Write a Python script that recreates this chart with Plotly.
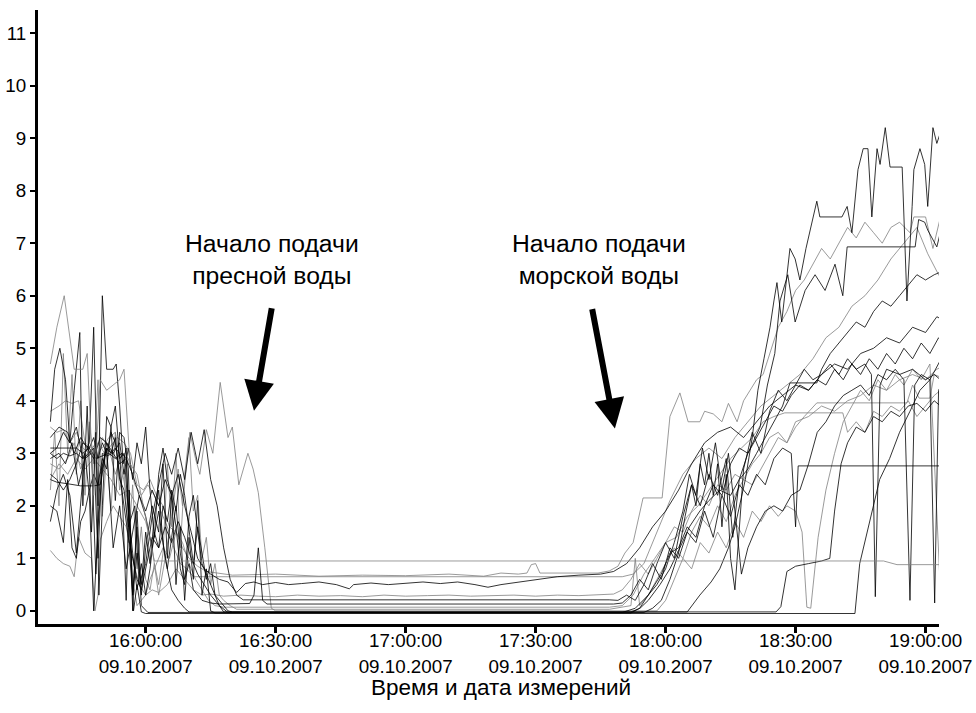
import pandas as pd
import plotly.graph_objects as go

BASE = pd.Timestamp("2007-10-09 16:00:00")

# ---- data: [minutes from 16:00:00, value] per sensor ----
s_A = [[-22,2.5],[-20.5,2.45],[-18,2.42],[-15,2.38],[-12,2.38],[-10.5,2.4],[-9,3.1],[-7.5,1.2],[-6,2.0],[-4.5,0.8],[-3,1.5],[-1.5,2.2],[0,1.8],[1.5,1.2],[3,1.9],[4.5,1.0],[6,0.4],[7.5,0.2],[9,0.05],[10,-0.02],[60,-0.03],[125,-0.02],[127.9,0.3],[130.5,0.55],[132.5,0.8],[134.5,1.2],[136,1.6],[138.4,2.5],[140,3.3],[141.3,4.2],[142.7,4.8],[144.1,5.4],[145,5.9],[145.7,6.25],[146.8,5.5],[147.8,6.2],[148.7,6.9],[149.9,6.7],[151,6.3],[152.4,6.9],[153.8,7.4],[154.9,7.8],[155.6,7.5],[160.7,7.5],[161.9,7.7],[163,7.2],[164.4,8.4],[165.6,8.8],[166.7,8.8],[167.6,7.5],[168.8,8.8],[169.5,8.5],[170.7,9.2],[171.8,8.45],[174.6,8.45],[175.7,5.9],[176.9,7.7],[177.3,8.4],[178.7,8.8],[179.8,8.5],[180.5,7.7],[181.7,9.2],[182.6,8.9],[183.8,9.2],[184.9,9.15]]
s_B = [[-22,4.7],[-20.5,5.4],[-18.8,6.0],[-17.5,5.2],[-16.5,4.6],[-14.5,4.6],[-13.5,4.9],[-12,2.2],[-10.5,4.4],[-9,4.2],[-7.5,4.3],[-6,4.4],[-5,4.6],[-3.6,2.8],[-2,2.6],[0.5,1.6],[2,0.95],[170.3,0.95],[173.4,0.88],[184.9,0.88]]
s_C = [[-22,3.0],[-20.5,3.1],[-19,3.4],[-17.5,3.2],[-16,3.5],[-14.5,2.9],[-13,3.2],[-12,5.4],[-11,2.0],[-10,6.0],[-9,4.6],[-7.5,4.6],[-6.8,4.7],[-6,3.9],[-5.2,2.8],[-4.5,3.1],[-3.8,1.2],[-3,0.3],[-2,1.6],[-1,0.1],[0.5,-0.03],[110,-0.03],[113,0.05],[116,0.3],[119,0.7],[121,1.1],[123,1.2],[125,1.6],[127,1.4],[129,2.0],[131,2.4],[133,2.2],[135,2.8],[137,3.1],[139,3.0],[141.8,3.5],[143.5,4.3],[145.2,4.9],[146.4,5.9],[148.2,6.4],[149.9,5.5],[152.2,6.1],[154.5,6.4],[156.8,6.1],[159.1,6.6],[160.9,6.0],[161.9,6.93],[177.6,6.93],[178.4,7.45],[179.8,7.4],[180.5,7.25],[182.6,6.93],[184,7.4],[184.9,7.55]]
s_D = [[-22,3.8],[-20,3.9],[-18.5,4.0],[-17,3.95],[-15.5,4.0],[-14,3.2],[-12.5,3.1],[-11,3.2],[-9.5,3.0],[-8,3.15],[-6.5,3.3],[-5,3.2],[-3.5,3.0],[-2,2.4],[-0.5,2.3],[1,2.5],[2.5,2.2],[4,2.0],[5.5,1.6],[7,1.5],[8.5,1.2],[10,1.0],[12,0.85],[14,0.75],[20,0.68],[30,0.7],[40,0.66],[50,0.68],[60,0.67],[70,0.7],[78,0.66],[82,0.72],[86,0.7],[88,0.72],[89,0.88],[90,0.9],[91,0.72],[100,0.72],[104.4,0.72],[107,0.76],[109,0.85],[110.6,1.1],[112.5,1.3],[114.8,2.15],[119.2,2.15],[121,3.7],[123.3,4.15],[125.2,3.6],[127.9,3.6],[129,3.8],[131,3.75],[133,3.6],[134.5,3.95],[136.5,3.6],[138,4.0],[139.5,4.2],[141,4.4],[142.5,4.5],[144,4.9],[146,5.4],[148,5.7],[150,6.1],[152,6.3],[154,6.6],[156,6.9],[158,6.7],[160,7.0],[162,7.3],[164,7.1],[166,7.4],[168,7.2],[170,7.0],[172,7.3],[174,7.4],[176.4,7.2],[177.3,7.5],[180,7.5],[181.7,6.9],[183.3,7.45],[184.9,7.6]]
s_E = [[-22,3.3],[-20,3.5],[-18,3.4],[-16.5,3.0],[-15,3.3],[-13.5,3.1],[-12,2.9],[-10.5,3.3],[-9,3.2],[-7.5,3.0],[-6,2.8],[-4.5,2.9],[-3,2.6],[-1.5,2.2],[0,1.9],[1.5,2.3],[3,2.0],[4.5,2.5],[6,2.2],[7.5,2.6],[9,2.0],[10.5,1.5],[12,1.0],[13.5,0.8],[15,0.7],[17,0.6],[19,0.55],[21,0.35],[23,0.52],[25,0.55],[27,0.5],[30,0.54],[33,0.5],[36,0.52],[40,0.55],[44,0.5],[47,0.42],[48,0.5],[52,0.53],[56,0.5],[60,0.52],[64,0.55],[68,0.52],[72,0.55],[76,0.5],[79,0.45],[82,0.5],[86,0.55],[90,0.6],[95,0.65],[100,0.68],[105,0.7],[108,0.75],[111,0.9],[114,1.2],[117,1.6],[120,1.9],[123,2.3],[126,2.8],[129,3.2],[132,3.4],[135,3.5],[138,3.3],[141,3.6],[144,3.9],[147,4.1],[150,4.3],[153,4.2],[156,4.5],[159,4.7],[162,4.6],[165,4.9],[168,5.0],[171,5.2],[174,5.1],[177,5.4],[180,5.3],[182.6,5.6],[184.9,5.5]]
s_F = [[-22,2.8],[-20,2.7],[-18,2.9],[-16.5,3.2],[-15,2.7],[-13,3.1],[-11.5,2.8],[-10,3.3],[-8.5,3.1],[-7,2.6],[-5.5,3.0],[-4,2.9],[-2.5,2.4],[-1,2.2],[0.5,2.4],[2,2.2],[3.5,1.9],[5,1.6],[6.5,1.2],[8,0.9],[9.5,0.8],[11,0.65],[110,0.65],[112.5,0.7],[115,0.9],[118,1.5],[121,2.1],[124,2.6],[127,2.9],[130,3.1],[133,2.9],[136,3.3],[139,3.6],[142,3.9],[145,4.1],[148,4.3],[151,4.5],[154,4.8],[157,5.2],[160,5.4],[163,5.8],[166,6.0],[169,6.3],[172,6.7],[175,7.0],[178,7.3],[180.5,6.8],[183,6.4],[184.9,6.2]]
s_G = [[-22,1.15],[-20.5,1.0],[-19,0.9],[-17.5,0.85],[-16.5,0.65],[-15.5,1.4],[-14,1.1],[-12.5,1.0],[-11.7,0.0],[-11,0.3],[-10.5,1.35],[-9,1.7],[-7.5,2.0],[-6,1.8],[-4.5,1.6],[-3,1.0],[-1.5,0.5],[0,0.3],[1.5,0.4],[3,0.35],[5,0.5],[7,0.8],[9,0.6],[11,0.4],[13,0.3],[15,0.32],[18,0.28],[22,0.3],[26,0.28],[30,0.27],[35,0.3],[40,0.28],[45,0.29],[50,0.27],[55,0.3],[60,0.28],[65,0.29],[70,0.3],[75,0.28],[80,0.29],[85,0.3],[90,0.28],[95,0.3],[100,0.29],[105,0.3],[108,0.32],[110,0.4],[112,0.6],[114,0.9],[116,0.7],[118,1.0],[120,1.3],[122,1.6],[124,1.5],[126,1.9],[128,2.2],[130,2.0],[132,2.4],[134,2.3],[136,2.6],[138,2.5],[140,2.8],[142,3.0],[144,3.3],[146,3.4],[148,3.2],[150,3.6],[153,3.7],[156,3.9],[159,3.8],[162,4.0],[165,4.1],[168,4.3],[171,4.2],[174,4.4],[177,4.5],[180,4.4],[182.6,4.6],[184.9,4.7]]
s_H = [[-22,2.9],[-20,3.0],[-18.5,2.8],[-17,3.2],[-15.5,2.4],[-14,2.9],[-12.5,3.0],[-11.5,0.7],[-10.5,2.6],[-9,3.1],[-8,3.0],[-7,3.3],[-6,2.5],[-5,2.3],[-4,1.6],[-2.5,2.0],[-1.5,0.5],[0,0.9],[1.5,1.8],[3,2.4],[4.5,3.0],[6,2.6],[7.5,3.1],[9,2.5],[10.5,3.4],[12,2.8],[13.5,3.45],[15,2.5],[16.5,2.0],[18,1.2],[19.5,0.6],[21,0.3],[22.5,0.21],[107,0.21],[109,0.2],[111,0.3],[113,0.2],[115,0.5],[117,0.9],[119,0.6],[121,1.2],[123,1.0],[125,1.5],[127,1.3],[129,1.9],[131,1.4],[133,2.2],[135,1.8],[137,2.4],[139,2.2],[141,2.6],[143,2.4],[145,2.9],[147,3.1],[149,3.0],[150,1.6],[150.6,2.76],[184.9,2.76]]
s_I = [[-22,1.7],[-20.5,2.3],[-19,2.6],[-17.5,2.2],[-16,1.1],[-15,2.0],[-14,3.0],[-13,2.2],[-12,0.0],[-11,1.6],[-10,2.7],[-9,3.2],[-8,3.0],[-7,3.1],[-6,3.0],[-5.3,2.0],[-4.5,0.2],[-3.8,2.3],[-3,0.3],[-2,1.1],[-1,0.5],[0,1.5],[1,0.9],[2,1.8],[3,2.3],[4,1.3],[5,0.8],[6,1.4],[7,2.0],[8,1.1],[9,0.6],[10,0.9],[11,0.4],[13,0.2],[15,0.15],[17,0.13],[24,0.14],[25,0.3],[26,1.2],[27,0.2],[28,0.13],[108,0.13],[110,0.15],[112,0.3],[114,0.6],[116,0.4],[118,0.9],[120,1.3],[122,1.0],[124,1.8],[126,2.4],[128,2.0],[130,2.6],[132,2.2],[134,2.9],[135.5,1.4],[137,2.5],[139,3.0],[141,3.3],[143,3.6],[145,3.9],[147,3.8],[149,4.1],[151,4.3],[153,4.2],[155,4.4],[157,4.3],[159,4.6],[161,4.4],[163,4.7],[165,4.5],[167,4.8],[169,4.6],[171,4.9],[173,4.7],[175,5.0],[177,4.8],[179,5.1],[181,4.9],[183,5.2],[184.9,5.0]]
s_J = [[-22,3.5],[-20.5,3.4],[-19,3.45],[-17.5,3.2],[-16,3.4],[-14.5,3.1],[-13,3.0],[-11.5,3.2],[-10,3.1],[-8.5,3.3],[-7,3.4],[-5.5,2.7],[-4,2.0],[-3,0.6],[-2,0.1],[-1,0.2],[0,0.3],[1,0.6],[2.5,0.9],[4,1.2],[5.5,1.0],[7,1.5],[8.5,1.3],[10,0.9],[11.5,0.6],[13,0.4],[14.5,0.2],[16,0.1],[18,0.07],[107,0.07],[110,0.1],[112.5,0.3],[115,0.7],[117.5,1.0],[120,1.3],[122.5,1.4],[125,1.8],[127.5,2.0],[130,2.3],[132.5,2.6],[135,2.9],[137.5,3.1],[140,3.3],[142.5,3.6],[145,3.7],[147.5,3.77],[160.9,3.77],[162,3.4],[164,3.6],[166,3.4],[168,3.8],[170,3.7],[172,3.9],[174,3.8],[176,4.0],[178,3.7],[180,3.9],[182,4.1],[184.9,4.3]]
s_K = [[-22,3.1],[-20,3.1],[-18,3.1],[-16,3.1],[-14.5,3.0],[-13,3.1],[-11.5,2.9],[-10,2.95],[-8.5,3.0],[-7,2.9],[-5.5,3.0],[-4.5,2.9],[-3.5,1.3],[-2.8,0.0],[-2,0.5],[-1,-0.02],[0,-0.05],[163.7,-0.05],[164.8,0.9],[166.5,1.5],[169.4,2.5],[171.7,2.9],[174,3.4],[176.4,3.8],[178.7,4.2],[181,4.4],[183,4.7],[184.9,5.0]]
s_L = [[-22,2.6],[-20.5,2.5],[-19,2.3],[-17.5,2.5],[-16,2.8],[-14.5,3.2],[-13,3.1],[-12,3.3],[-11,2.9],[-10,3.2],[-9,3.0],[-8,3.4],[-7,3.2],[-6,2.6],[-5,2.0],[-4,1.4],[-3,1.0],[-2,0.6],[-1,0.4],[0,0.8],[1.5,1.4],[3,1.2],[4.5,1.6],[6,1.3],[7.5,1.7],[9,1.4],[10.5,1.0],[12,0.7],[13.5,0.5],[15,0.3],[17,0.1],[19,-0.03],[115,-0.03],[117,0.05],[119,0.2],[121,0.6],[123,1.1],[124.5,1.8],[126,2.4],[127,2.0],[128,2.8],[129,2.4],[130,3.0],[131,2.2],[132,2.8],[133,1.6],[134,2.6],[135,1.0],[136,0.4],[137,1.5],[138,2.7],[140,3.4],[142,3.0],[144,3.8],[146,4.2],[148,4.0],[150,4.3],[152,4.6],[154,4.4],[156,4.5],[158,4.7],[160,4.5],[162,4.8],[164,4.6],[166,4.7],[167.5,4.5],[168.4,0.27],[169.5,4.3],[171,4.6],[174,4.5],[177,4.6],[180,4.4],[182,4.5],[184.9,4.3]]
s_M = [[-22,3.6],[-21,4.6],[-19.8,5.0],[-18.5,4.4],[-17.5,3.2],[-16.5,4.2],[-15.2,5.3],[-14.5,2.0],[-13.5,3.9],[-12.5,1.5],[-11.5,3.4],[-10.8,0.3],[-10,2.0],[-9,3.7],[-8,3.5],[-7,2.1],[-6,3.4],[-5,3.3],[-4,2.7],[-3,0.0],[-2,1.9],[-1,0.3],[0,1.2],[1.5,2.0],[3,1.5],[4,2.8],[5,1.0],[6,2.2],[7,0.5],[8,1.6],[9,0.2],[10,1.4],[11,0.6],[12,2.1],[13,0.3],[14,0.8],[15,0.0],[16,-0.04],[112,-0.04],[114,0.05],[116,0.3],[118,0.5],[120,0.8],[122,1.3],[124,1.9],[125.5,2.6],[127,2.2],[128.5,3.1],[130,2.5],[131.5,3.2],[133,2.3],[134.5,3.0],[136,1.9],[137.5,0.7],[139,1.2],[141,1.6],[143,1.9],[145,2.0],[147,1.9],[149,2.2],[151,2.3],[153,2.8],[155,3.4],[157,3.6],[159,3.9],[161,4.1],[163,4.2],[165,4.3],[167,4.1],[169,4.5],[171,4.4],[173,4.6],[175,4.4],[176.4,0.2],[177.5,4.3],[179,4.5],[181,4.4],[182.1,0.15],[183,4.2],[184.9,4.5]]
s_N = [[-22,2.5],[-20,2.8],[-18,2.6],[-16,2.9],[-14,2.7],[-12,2.9],[-10,2.7],[-8,2.5],[-6,2.2],[-4,2.3],[-2,2.0],[0,1.7],[1.5,1.2],[3,0.3],[4.5,1.0],[6,1.8],[7.5,2.7],[8.5,2.0],[10.2,3.4],[11.5,2.9],[12.5,2.6],[14,3.45],[15.5,3.0],[17.2,4.35],[19,3.3],[20,3.5],[21.5,2.4],[23.6,3.0],[24.8,2.7],[26,2.25],[27.5,1.2],[28.2,0.6],[29,0.05],[30,0.0],[118,0.0],[120,0.2],[122,0.6],[124,1.0],[126,0.8],[128,1.3],[130,1.1],[132,1.5],[134,1.2],[136,1.7],[138,1.4],[140,1.9],[142,1.7],[144,2.0],[146,1.8],[148,2.0],[150,1.9],[151.5,1.5],[152.6,0.07],[153.5,0.05],[155.2,1.4],[157,2.3],[159,3.0],[161,3.6],[163,3.9],[165,4.2],[167,4.0],[169,4.4],[171,4.2],[173,4.5],[175,4.3],[177,4.6],[179,4.4],[181,4.7],[183.3,0.6],[184,4.3],[184.9,4.5]]
s_O = [[-22,3.0],[-20.5,2.9],[-19,3.0],[-17.5,2.95],[-16,3.0],[-14.5,2.9],[-13,3.0],[-12,3.1],[-11,1.0],[-10,3.0],[-9,2.95],[-7.5,3.0],[-6,3.2],[-5,2.6],[-4,3.1],[-3,2.5],[-2,3.2],[-1,2.8],[0,3.5],[1,2.3],[2,1.4],[3,2.6],[4,3.1],[5,2.5],[6,2.2],[7,1.6],[8,0.8],[9,0.5],[10,1.8],[11,2.2],[12,1.5],[13,0.9],[14.5,0.6],[16,0.3],[17.5,0.15],[19,0.0],[20,-0.02],[112,-0.02],[114.1,0.05],[116,0.2],[118.7,0.5],[121,0.8],[123.3,1.2],[125.5,1.6],[127.9,1.9],[130,2.1],[132.5,2.3],[135,2.2],[137,2.5],[139,2.7],[141,3.0],[143,3.3],[145,3.6],[147,3.9],[148.7,4.34],[154.9,4.34],[156,4.6],[158,4.9],[160,5.1],[162,5.3],[164,5.5],[166,5.4],[168,5.7],[170,5.9],[172,5.8],[174,6.0],[176,6.2],[178,6.4],[180,6.3],[182,6.4],[184.9,6.5]]
s_P = [[-22,2.3],[-21,3.4],[-20,2.0],[-19,4.9],[-18,3.0],[-17,4.5],[-16,2.6],[-15,4.0],[-14,2.2],[-13,3.6],[-12,2.8],[-11,4.4],[-10,1.8],[-9,3.0],[-8,1.9],[-7,3.4],[-6,2.3],[-5,2.7],[-4,1.3],[-3,2.4],[-2,0.8],[-1,1.6],[0,0.6],[1,0.4],[2,0.9],[3,0.5],[4,1.1],[5,2.8],[6,1.6],[7,3.0],[8,1.2],[9,2.6],[10,3.3],[11,1.9],[12,2.2],[13,1.0],[14,1.4],[15,0.5],[16,0.9],[17,0.3],[18,0.2],[19.5,0.1],[21,0.03],[107,0.03],[112,0.1],[113,1.0],[114,0.1],[116,0.3],[118,0.6],[120,0.9],[122,1.2],[124,1.0],[126,1.5],[128,1.8],[130,1.6],[132,2.0],[134,1.7],[136,2.2],[138,2.5],[140,2.4],[142,2.7],[144,3.0],[146,3.3],[148,3.2],[150,3.5],[152,3.7],[154.9,3.96],[175.7,3.96],[177,4.3],[178.5,4.05],[181,4.05],[182,4.5],[184.9,4.4]]
s_S = [[-22,2.0],[-20.5,1.9],[-19,1.3],[-18,2.5],[-17,1.2],[-16,1.0],[-15,1.7],[-14,1.9],[-13,2.3],[-12,2.6],[-11,2.4],[-10,2.9],[-9,2.7],[-8,3.5],[-7,3.9],[-6,2.9],[-5,3.0],[-4,1.9],[-3,1.1],[-2,0.4],[-1,0.9],[0,0.3],[1,0.8],[2,1.5],[3,1.2],[4,2.0],[5,1.7],[6,2.3],[7,1.9],[8,2.6],[9,2.2],[10,1.5],[11,0.9],[12,1.6],[13,1.1],[14,0.6],[15,0.9],[16,0.3],[17,0.1],[18,-0.02],[145.5,-0.02],[146.6,0.08],[148,0.75],[150,0.85],[153,0.9],[156,0.95],[157.9,1.0],[159,1.9],[160.5,2.8],[162,3.2],[164,3.5],[166,3.4],[168,3.7],[170,3.6],[172,3.8],[174,3.7],[176,3.9],[178,3.95],[180,3.8],[182,4.0],[184.9,3.8]]

series = [
    (s_B, "#808080"), (s_D, "#808080"), (s_F, "#808080"), (s_G, "#808080"),
    (s_J, "#808080"), (s_N, "#808080"), (s_P, "#808080"),
    (s_A, "#000000"), (s_C, "#000000"), (s_E, "#000000"), (s_H, "#000000"),
    (s_I, "#000000"), (s_K, "#000000"), (s_L, "#000000"), (s_M, "#000000"),
    (s_O, "#000000"), (s_S, "#000000"),
]

tick_minutes = [0, 30, 60, 90, 120, 150, 180]
tick_time_labels = ["16:00:00", "16:30:00", "17:00:00", "17:30:00", "18:00:00", "18:30:00", "19:00:00"]
tick_date_labels = ["09.10.2007"] * 7
y_ticks = list(range(0, 12))


def ts(m):
    return BASE + pd.to_timedelta(m, unit="m")


fig = go.Figure()
for i, (s, col) in enumerate(series):
    fig.add_trace(go.Scatter(
        x=[ts(p[0]) for p in s], y=[p[1] for p in s],
        xaxis="x2" if i == 0 else "x",
        mode="lines", line=dict(color=col, width=0.8), hoverinfo="skip"))

x_range = [ts(-24.85), ts(183.1)]
tickvals = [ts(m) for m in tick_minutes]
FONT = "Arial, Liberation Sans, sans-serif"

fig.update_layout(
    width=976, height=713,
    margin=dict(l=38, r=37, t=10, b=89),
    plot_bgcolor="white", paper_bgcolor="white",
    showlegend=False,
    font=dict(family=FONT, size=18.8, color="black"),
    xaxis=dict(type="date", range=x_range, tickvals=tickvals, ticktext=tick_time_labels,
               ticks="outside", ticklen=6, tickwidth=3, tickcolor="black",
               showline=True, linewidth=3, linecolor="black", automargin=False,
               showgrid=False, zeroline=False, tickfont=dict(size=18.8),
               ticklabelstandoff=-9),
    xaxis2=dict(type="date", range=x_range, overlaying="x", anchor="y", side="bottom",
                tickvals=tickvals, ticktext=tick_date_labels, ticks="", automargin=False,
                showline=False, showgrid=False, zeroline=False,
                tickfont=dict(size=18.8), ticklabelstandoff=29),
    yaxis=dict(range=[-0.25, 11.44], tickvals=y_ticks, automargin=False,
               ticks="outside", ticklen=5, tickwidth=2, tickcolor="black",
               showline=True, linewidth=3, linecolor="black",
               showgrid=False, zeroline=False, tickfont=dict(size=18.8)),
)

ann_font = dict(family=FONT, size=24.7, color="black")
fig.add_annotation(x=ts(29.15), y=6.69, text="Начало подачи<br>пресной воды",
                   showarrow=False, font=ann_font, xanchor="center", yanchor="middle")
fig.add_annotation(x=ts(104.6), y=6.69, text="Начало подачи<br>морской воды",
                   showarrow=False, font=ann_font, xanchor="center", yanchor="middle")
fig.add_annotation(x=ts(25.0), y=3.81, ax=18, ay=-104, text="", showarrow=True,
                   arrowhead=2, arrowsize=1.0, arrowwidth=6, arrowcolor="black")
fig.add_annotation(x=ts(108.3), y=3.47, ax=-23, ay=-121, text="", showarrow=True,
                   arrowhead=2, arrowsize=1.0, arrowwidth=6, arrowcolor="black")
fig.add_annotation(xref="paper", yref="paper", x=0.514, y=-0.1042,
                   text="Время и дата измерений", showarrow=False,
                   font=dict(family=FONT, size=22.5, color="black"),
                   xanchor="center", yanchor="middle")

fig.write_html("out.html")
